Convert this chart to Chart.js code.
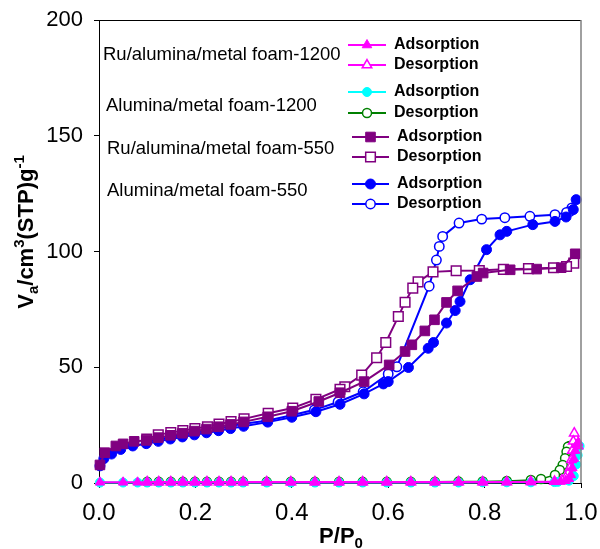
<!DOCTYPE html>
<html>
<head>
<meta charset="utf-8">
<script src="https://cdn.jsdelivr.net/npm/chart.js@4.4.1/dist/chart.umd.min.js"></script>
<style>
  html, body { margin: 0; padding: 0; background: #fff; }
  canvas { display: block; }
</style>
</head>
<body>
<canvas id="iso" width="600" height="549"></canvas>
<script>
const FONT = '"Liberation Sans", Arial, sans-serif';

// relative pressure grid shared by the two 1200 samples
const lowGridP = [0.002, 0.05, 0.08, 0.1, 0.124, 0.149, 0.174, 0.199, 0.224, 0.249, 0.274, 0.299,
  0.348, 0.398, 0.448, 0.498, 0.547, 0.597, 0.647, 0.697, 0.746, 0.796, 0.846, 0.896, 0.945];

// Ru/alumina/metal foam-1200
const ru1200AdsP = lowGridP.concat([0.958, 0.968, 0.975, 0.979, 0.982, 0.985, 0.988, 0.991, 0.994]);
const ru1200AdsV = [0.3, 0.3, 0.3, 0.3, 0.3, 0.3, 0.3, 0.3, 0.3, 0.3, 0.3, 0.3,
  0.3, 0.3, 0.3, 0.3, 0.3, 0.3, 0.3, 0.3, 0.3, 0.3, 0.4, 0.4, 0.5,
  0.6, 1.0, 1.8, 3.5, 6.5, 10.5, 14.0, 16.5, 17.5];
const ru1200DesP = [0.994, 0.99, 0.986, 0.984, 0.982, 0.98, 0.977, 0.973, 0.968, 0.96, 0.945, 0.896,
  0.846, 0.796, 0.746, 0.697, 0.647, 0.597, 0.547, 0.498, 0.448, 0.398, 0.348, 0.299,
  0.274, 0.249, 0.224, 0.199, 0.174, 0.149, 0.124, 0.1];
const ru1200DesV = [16.0, 19.0, 21.5, 18.0, 14.0, 10.0, 6.5, 4.0, 2.2, 1.2, 0.7, 0.5,
  0.4, 0.4, 0.4, 0.4, 0.4, 0.4, 0.4, 0.4, 0.4, 0.4, 0.4, 0.4,
  0.4, 0.4, 0.4, 0.4, 0.4, 0.4, 0.4, 0.4];

// Alumina/metal foam-1200
const al1200AdsP = lowGridP.concat([0.952, 0.975, 0.985, 0.99, 0.993, 0.997]);
const al1200AdsV = [0.2, 0.2, 0.2, 0.2, 0.2, 0.2, 0.2, 0.2, 0.2, 0.2, 0.2, 0.2,
  0.2, 0.2, 0.2, 0.2, 0.2, 0.2, 0.2, 0.2, 0.2, 0.3, 0.3, 0.3, 0.4,
  0.5, 1.0, 3.0, 8.0, 12.0, 16.0];
const al1200DesP = [0.99, 0.982, 0.976, 0.973, 0.97, 0.967, 0.962, 0.956, 0.946, 0.917, 0.896,
  0.846, 0.796, 0.746, 0.697, 0.647, 0.597, 0.547, 0.498, 0.448, 0.398, 0.348, 0.299,
  0.274, 0.249, 0.224, 0.199, 0.174, 0.149, 0.124, 0.1];
const al1200DesV = [16.5, 16.2, 16.0, 15.7, 13.5, 10.7, 7.8, 5.6, 3.5, 1.7, 1.3,
  0.9, 0.7, 0.6, 0.5, 0.5, 0.5, 0.5, 0.5, 0.5, 0.5, 0.5, 0.5,
  0.5, 0.5, 0.5, 0.5, 0.5, 0.5, 0.5, 0.5];

// Ru/alumina/metal foam-550
const ru550AdsP = [0.002, 0.012, 0.035, 0.05, 0.073, 0.098, 0.123, 0.148, 0.173, 0.198, 0.223, 0.248,
  0.273, 0.3, 0.35, 0.4, 0.456, 0.5, 0.55, 0.602, 0.635, 0.649, 0.676, 0.696, 0.721, 0.744,
  0.784, 0.797, 0.853, 0.908, 0.959, 0.988];
const ru550AdsV = [7.8, 13.1, 16.0, 16.9, 18.0, 18.4, 19.6, 20.6, 21.5, 22.4, 23.3, 24.3,
  25.3, 26.4, 28.6, 31.0, 35.2, 39.0, 43.8, 51.0, 56.8, 59.7, 65.7, 70.5, 78.0, 83.0,
  89.2, 90.7, 92.1, 92.4, 93.0, 99.0];
const ru550DesP = [0.985, 0.97, 0.943, 0.891, 0.839, 0.789, 0.741, 0.693, 0.662, 0.651, 0.635,
  0.621, 0.595, 0.576, 0.545, 0.51, 0.5, 0.45, 0.402, 0.351, 0.301, 0.274, 0.249, 0.225,
  0.199, 0.174, 0.149, 0.123, 0.099];
const ru550DesV = [95.0, 93.5, 93.0, 92.6, 92.3, 91.8, 91.7, 91.2, 86.9, 84.2, 78.1,
  71.9, 60.7, 54.1, 46.6, 41.6, 40.5, 36.1, 32.4, 30.1, 27.7, 26.5, 25.5, 24.3,
  23.5, 22.6, 21.8, 20.8, 19.0];

// Alumina/metal foam-550
const al550AdsP = [0.002, 0.01, 0.026, 0.045, 0.07, 0.098, 0.123, 0.148, 0.173, 0.198, 0.223, 0.248,
  0.273, 0.3, 0.35, 0.4, 0.45, 0.5, 0.55, 0.59, 0.6, 0.642, 0.683, 0.694, 0.721, 0.739, 0.749,
  0.77, 0.804, 0.832, 0.846, 0.9, 0.946, 0.969, 0.984, 0.99];
const al550AdsV = [7.4, 10.5, 12.5, 14.5, 16.0, 17.0, 18.0, 19.0, 19.9, 20.8, 21.7, 22.6,
  23.5, 24.5, 26.3, 28.4, 30.8, 34.0, 38.5, 42.8, 43.8, 49.9, 58.2, 60.7, 69.1, 74.5, 78.4,
  87.8, 100.8, 107.2, 108.7, 111.6, 113.0, 114.9, 118.1, 122.4];
const al550DesP = [0.981, 0.977, 0.97, 0.946, 0.894, 0.842, 0.794, 0.747, 0.713, 0.706, 0.7, 0.685,
  0.618, 0.6, 0.548, 0.496, 0.447, 0.4, 0.348, 0.3, 0.274, 0.249, 0.225, 0.199, 0.174,
  0.149, 0.123, 0.099];
const al550DesV = [118.8, 117.3, 116.9, 115.9, 115.2, 114.6, 114.0, 112.3, 106.5, 102.2, 96.3, 85.0,
  50.2, 47.1, 39.4, 35.0, 31.6, 29.3, 26.9, 25.6, 24.6, 23.6, 22.6, 21.7, 20.8,
  19.9, 18.9, 17.6];

// axis ticks
const xTicks = [0, 0.2, 0.4, 0.6, 0.8, 1.0];
const yTicks = [0, 50, 100, 150, 200];

const sampleNames = ["Ru/alumina/metal foam-1200", "Alumina/metal foam-1200",
  "Ru/alumina/metal foam-550", "Alumina/metal foam-550"];
const branchNames = ["Adsorption", "Desorption"];

const MAGENTA = "#ff00ff", CYAN = "#00ffff", GREEN = "#008000", PURPLE = "#800080", BLUE = "#0000ff";

function series(label, xs, ys, color, shape, radius, open, lineColor, lineWidth) {
  return {
    label: label,
    data: xs.map((x, i) => ({ x: x, y: ys[i] })),
    showLine: true,
    borderColor: lineColor || color,
    borderWidth: lineWidth || 2,
    tension: 0,
    pointStyle: shape,
    pointRadius: radius,
    pointHoverRadius: radius,
    pointBackgroundColor: open ? "#ffffff" : color,
    pointBorderColor: color,
    pointBorderWidth: open ? 1.5 : 1,
    clip: false,
  };
}

// first dataset is painted last, so the list runs top layer first
const datasets = [
  series(sampleNames[0] + " " + branchNames[0], ru1200AdsP, ru1200AdsV, MAGENTA, "triangle", 5.5, false),
  series(sampleNames[0] + " " + branchNames[1], ru1200DesP, ru1200DesV, MAGENTA, "triangle", 5.5, true),
  series(sampleNames[1] + " " + branchNames[0], al1200AdsP, al1200AdsV, CYAN, "circle", 4.5, false),
  series(sampleNames[1] + " " + branchNames[1], al1200DesP, al1200DesV, GREEN, "circle", 4.5, true, GREEN, 1.5),
  series(sampleNames[2] + " " + branchNames[0], ru550AdsP, ru550AdsV, PURPLE, "rect", 6.8, false),
  series(sampleNames[2] + " " + branchNames[1], ru550DesP, ru550DesV, PURPLE, "rect", 6.8, true),
  series(sampleNames[3] + " " + branchNames[0], al550AdsP, al550AdsV, BLUE, "circle", 5, false),
  series(sampleNames[3] + " " + branchNames[1], al550DesP, al550DesV, BLUE, "circle", 4.7, true),
];

// text made of pieces with sub/superscripts, drawn left to right from (x, y)
function drawPieces(ctx, pieces, x, y, align) {
  let total = 0;
  pieces.forEach(p => {
    ctx.font = "bold " + p.size + "px " + FONT;
    p.w = ctx.measureText(p.t).width;
    total += p.w;
  });
  let cx = align === "center" ? x - total / 2 : x;
  pieces.forEach(p => {
    ctx.font = "bold " + p.size + "px " + FONT;
    ctx.fillText(p.t, cx, y + (p.dy || 0));
    cx += p.w;
  });
}

// keep the plot box fixed: tick labels may hang past its edges
function noEdgePadding(s) {
  s.paddingLeft = 0;
  s.paddingRight = 0;
  s.paddingTop = 0;
  s.paddingBottom = 0;
}

const decorations = {
  id: "decorations",
  afterDraw(chart) {
    const ctx = chart.ctx;
    const a = chart.chartArea;
    ctx.save();

    // top and right frame
    ctx.lineWidth = 1;
    ctx.strokeStyle = "#000";
    ctx.beginPath();
    ctx.moveTo(a.left, a.top + 0.5);
    ctx.lineTo(a.right, a.top + 0.5);
    ctx.stroke();
    ctx.strokeStyle = "#808080";
    ctx.lineWidth = 1.5;
    ctx.beginPath();
    ctx.moveTo(a.right, a.top);
    ctx.lineTo(a.right, a.bottom);
    ctx.stroke();

    ctx.fillStyle = "#000";
    ctx.textBaseline = "alphabetic";

    // y axis title
    ctx.save();
    ctx.translate(33, 232);
    ctx.rotate(-Math.PI / 2);
    drawPieces(ctx, [
      { t: "V", size: 22 },
      { t: "a", size: 15, dy: 5 },
      { t: "/cm", size: 22 },
      { t: "3", size: 15, dy: -9 },
      { t: "(STP)g", size: 22 },
      { t: "-1", size: 15, dy: -9 },
    ], 0, 0, "center");
    ctx.restore();

    // x axis title
    drawPieces(ctx, [
      { t: "P/P", size: 22 },
      { t: "0", size: 15, dy: 5 },
    ], 341, 543, "center");

    // legend: sample names on the left, branch keys on the right
    const keys = [
      { name: sampleNames[0], nx: 103, ny: 55, rows: [
        { y: 45, c: MAGENTA, shape: "triangle", r: 5.5, open: false },
        { y: 65, c: MAGENTA, shape: "triangle", r: 5.5, open: true }], lx: 348, lx2: 386, tx: 394 },
      { name: sampleNames[1], nx: 106, ny: 106, rows: [
        { y: 92, c: CYAN, shape: "circle", r: 4.5, open: false },
        { y: 113, c: GREEN, shape: "circle", r: 4.5, open: true }], lx: 348, lx2: 386, tx: 394 },
      { name: sampleNames[2], nx: 107, ny: 149, rows: [
        { y: 137, c: PURPLE, shape: "rect", r: 6.8, open: false },
        { y: 157, c: PURPLE, shape: "rect", r: 6.8, open: true }], lx: 352, lx2: 389, tx: 397 },
      { name: sampleNames[3], nx: 107, ny: 191, rows: [
        { y: 184, c: BLUE, shape: "circle", r: 5, open: false },
        { y: 204, c: BLUE, shape: "circle", r: 4.7, open: true }], lx: 352, lx2: 389, tx: 397 },
    ];
    keys.forEach(k => {
      ctx.fillStyle = "#000";
      ctx.font = "18.5px " + FONT;
      ctx.textAlign = "left";
      ctx.textBaseline = "middle";
      ctx.fillText(k.name, k.nx, k.ny);
      k.rows.forEach((row, i) => {
        ctx.strokeStyle = row.c;
        ctx.lineWidth = 2;
        ctx.beginPath();
        ctx.moveTo(k.lx, row.y);
        ctx.lineTo(k.lx2, row.y);
        ctx.stroke();
        ctx.fillStyle = row.open ? "#fff" : row.c;
        ctx.lineWidth = row.open ? 1.5 : 1;
        Chart.helpers.drawPoint(ctx, { pointStyle: row.shape, radius: row.r, rotation: 0, borderWidth: ctx.lineWidth },
          (k.lx + k.lx2) / 2, row.y);
        ctx.fillStyle = "#000";
        ctx.font = "bold 16px " + FONT;
        ctx.textBaseline = "middle";
        ctx.fillText(branchNames[i], k.tx, row.y);
      });
    });
    ctx.restore();
  },
};

new Chart(document.getElementById("iso"), {
  type: "scatter",
  data: { datasets: datasets },
  options: {
    responsive: false,
    animation: false,
    devicePixelRatio: 1,
    layout: { padding: { top: 20, right: 19, left: 0, bottom: 0 } },
    plugins: { legend: { display: false }, tooltip: { enabled: false } },
    scales: {
      x: {
        type: "linear",
        min: 0,
        max: 1,
        afterBuildTicks: s => { s.ticks = xTicks.map(v => ({ value: v })); },
        afterFit: s => { s.height = 66; noEdgePadding(s); },
        ticks: {
          color: "#000",
          font: { family: FONT, size: 24 },
          padding: 11,
          maxRotation: 0,
          callback: v => v.toFixed(1),
        },
        grid: { drawOnChartArea: false, drawTicks: true, tickLength: 5, color: "#000" },
        border: { color: "#000", width: 1 },
      },
      y: {
        type: "linear",
        min: 0,
        max: 200,
        afterBuildTicks: s => { s.ticks = yTicks.map(v => ({ value: v })); },
        afterFit: s => { s.width = 99; noEdgePadding(s); },
        ticks: {
          color: "#000",
          font: { family: FONT, size: 22 },
          padding: 11,
          callback: v => String(v),
        },
        grid: { drawOnChartArea: false, drawTicks: true, tickLength: 5, color: "#000" },
        border: { color: "#000", width: 1 },
      },
    },
  },
  plugins: [decorations],
});
</script>
</body>
</html>
